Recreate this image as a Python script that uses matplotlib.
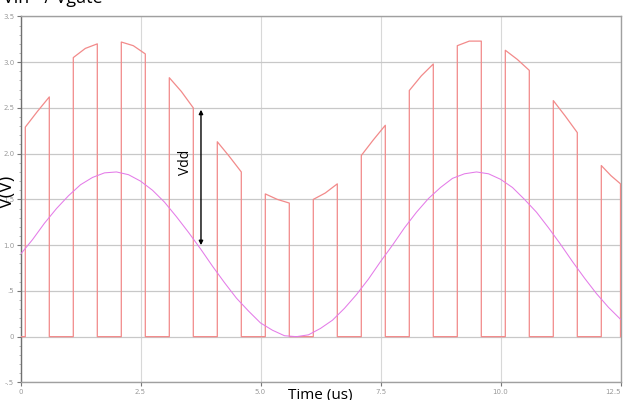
import matplotlib
matplotlib.use("Agg")
import matplotlib.pyplot as plt
from matplotlib.ticker import MultipleLocator

# ---- data ----
pulse_start = [0.1, 1.1, 2.1, 3.1, 4.1, 5.1, 6.1, 7.1, 8.1, 9.1, 10.1, 11.1, 12.1]
pulse_end   = [0.6, 1.6, 2.6, 3.6, 4.6, 5.6, 6.6, 7.6, 8.6, 9.6, 10.6, 11.6, 12.5]
top_start   = [2.29, 3.05, 3.22, 2.83, 2.13, 1.56, 1.50, 1.98, 2.69, 3.18, 3.13, 2.58, 1.87]
top_mid     = [2.46, 3.15, 3.18, 2.68, 1.97, 1.50, 1.57, 2.15, 2.85, 3.23, 3.03, 2.41, 1.76]
top_end     = [2.62, 3.20, 3.09, 2.50, 1.80, 1.46, 1.67, 2.31, 2.98, 3.23, 2.91, 2.23, 1.67]

sine_t = [i * 0.25 for i in range(51)]
sine_v = [0.90, 1.06, 1.24, 1.40, 1.54, 1.66, 1.74, 1.79, 1.80, 1.77,
          1.70, 1.60, 1.47, 1.31, 1.14, 0.96, 0.77, 0.59, 0.42, 0.28,
          0.15, 0.07, 0.01, 0.00, 0.02, 0.09, 0.18, 0.31, 0.46, 0.63,
          0.82, 1.00, 1.19, 1.36, 1.51, 1.63, 1.73, 1.78, 1.80, 1.78,
          1.72, 1.63, 1.50, 1.36, 1.19, 1.01, 0.82, 0.64, 0.47, 0.32,
          0.19]

y_ticks = [-0.5, 0, 0.5, 1.0, 1.5, 2.0, 2.5, 3.0, 3.5]
y_labels = ["-.5", "0", ".5", "1.0", "1.5", "2.0", "2.5", "3.0", "3.5"]
x_ticks = [0, 2.5, 5.0, 7.5, 10.0, 12.5]
x_labels = ["0", "2.5", "5.0", "7.5", "10.0", "12.5"]

vdd_x = 3.76
vdd_lo, vdd_hi = 1.0, 2.48

# ---- build the PWM trace ----
pt, pv = [0.0], [0.0]
for s, e, vs, vm, ve in zip(pulse_start, pulse_end, top_start, top_mid, top_end):
    pt += [s, s, (s + e) / 2, e, e]
    pv += [0, vs, vm, ve, 0]

fig = plt.figure(figsize=(6.25, 4.0), dpi=100)
ax = fig.add_axes([0.0328, 0.044, 0.96, 0.915])

ax.set_xlim(0, 12.5)
ax.set_ylim(-0.5, 3.5)

ax.set_yticks(y_ticks)
ax.set_yticklabels(y_labels)
ax.set_xticks(x_ticks)
ax.set_xticklabels(x_labels)
ax.yaxis.set_minor_locator(MultipleLocator(0.1))
ax.tick_params(axis="both", which="major", labelsize=5, labelcolor="#9a9a9a",
               color="#777777", length=3, width=0.8, pad=1.5)
ax.tick_params(axis="y", which="minor", length=1.5, color="#999999", width=0.5)
ax.get_xticklabels()[-1].set_horizontalalignment("right")

ax.grid(axis="y", color="#c8c8c8", linewidth=0.9, zorder=0)
ax.grid(axis="x", color="#d8d8d8", linewidth=0.8, zorder=0)

for sp in ax.spines.values():
    sp.set_color("#a0a0a0")
    sp.set_linewidth(1.0)
ax.spines["left"].set_color("#707070")

ax.plot(pt, pv, color="#f28a8a", linewidth=0.9, zorder=3)
ax.plot(sine_t, sine_v, color="#e47be8", linewidth=0.75, zorder=4)

ax.annotate("", xy=(vdd_x, vdd_hi), xytext=(vdd_x, vdd_lo),
            arrowprops=dict(arrowstyle="<|-|>", color="black", lw=1.0,
                            mutation_scale=6, shrinkA=0, shrinkB=0), zorder=5)
ax.text(3.44, 1.9, "Vdd", rotation=90, fontsize=10, family="Open Sans",
        ha="center", va="center", color="black", zorder=5)

fig.text(16 / 625, 0.52, "V(V)", rotation=90, fontsize=13, family="Open Sans",
         ha="right", va="center", color="black")
fig.text(320 / 625, 1 - 388 / 400, "Time (us)", fontsize=11, family="Open Sans",
         ha="center", va="top", color="black")
fig.text(3 / 625, 1 - 3 / 400, "Vin - / Vgate", fontsize=13, family="Open Sans",
         ha="left", va="baseline", color="black")

fig.savefig("out.png", dpi=100)
